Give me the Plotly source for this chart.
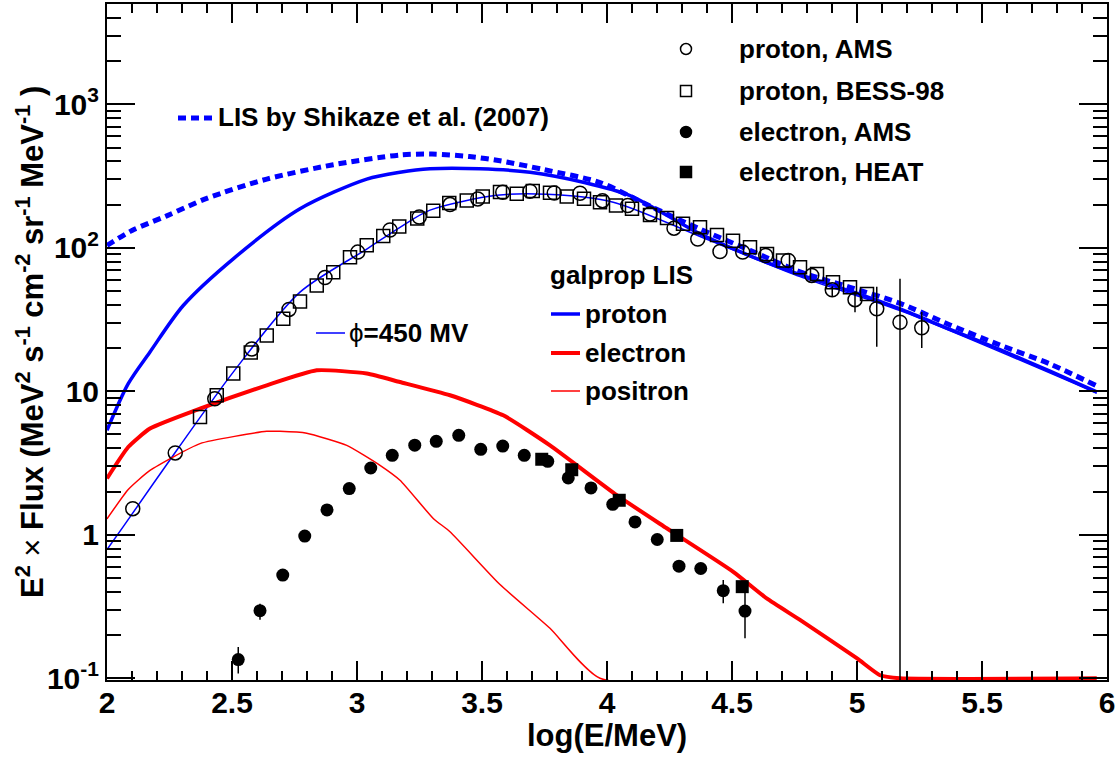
import plotly.graph_objects as go

# ---------------- data ----------------
# proton, AMS (open circles)
p_ams_x = [2.103, 2.273, 2.431, 2.579, 2.728, 2.872, 3.003, 3.132, 3.249, 3.372, 3.483, 3.583, 3.692, 3.789, 3.892,
           3.982, 4.083, 4.172, 4.268, 4.363, 4.452, 4.543, 4.635, 4.725, 4.819, 4.901, 4.992, 5.079, 5.172, 5.259]
p_ams_y = [1.52, 3.72, 8.87, 19.7, 37.2, 62.1, 93.3, 133, 164, 200, 219, 244, 248, 241, 240,
           213, 197, 172, 137, 115, 94.2, 93.3, 88.4, 81.7, 64.2, 51, 43.5, 37.6, 30.3, 27.7]
p_ams_eup = [0] * 25 + [3, 6, 16, 30.5, 8]
p_ams_edn = [0] * 25 + [5, 8, 17.2, 30.29, 7.7]

# proton, BESS-98 (open squares)
p_bess_x = [2.372, 2.439, 2.505, 2.575, 2.639, 2.705, 2.772, 2.839, 2.905, 2.972, 3.039, 3.105, 3.169, 3.241,
            3.305, 3.369, 3.439, 3.503, 3.572, 3.639, 3.703, 3.772, 3.839, 3.908, 3.972, 4.036, 4.100, 4.172,
            4.240, 4.304, 4.372, 4.440, 4.504, 4.572, 4.640, 4.704, 4.772, 4.840, 4.904, 4.972, 5.040]
p_bess_y = [6.62, 9.37, 13.3, 18.6, 24.5, 32, 42.3, 54.6, 67.6, 86, 104, 121, 141, 160,
            181, 205, 214, 228, 245, 238, 249, 242, 228, 220, 208, 197, 187, 169,
            161, 147, 139, 123, 112, 101, 90.7, 81.5, 73.3, 65.8, 57.6, 53.1, 47.7]

# electron, AMS (filled circles)
e_ams_x = [2.525, 2.612, 2.703, 2.791, 2.880, 2.969, 3.055, 3.141, 3.231, 3.317, 3.407, 3.495,
           3.583, 3.669, 3.763, 3.845, 3.936, 4.023, 4.112, 4.201, 4.288, 4.375, 4.465, 4.552]
e_ams_y = [0.135, 0.296, 0.524, 0.98, 1.49, 2.10, 2.92, 3.58, 4.21, 4.48, 4.93, 3.94,
           4.15, 3.58, 3.25, 2.49, 2.12, 1.63, 1.23, 0.927, 0.604, 0.582, 0.408, 0.294]
e_ams_eup = [0.03, 0.035, 0.03] + [0] * 17 + [0.02, 0.02, 0.076, 0.164]
e_ams_edn = [0.027, 0.04, 0.035] + [0] * 17 + [0.03, 0.03, 0.075, 0.104]

# electron, HEAT (filled squares)
e_heat_x = [3.739, 3.859, 4.049, 4.279, 4.541]
e_heat_y = [3.36, 2.84, 1.74, 0.99, 0.435]

# LIS by Shikaze et al. (2007)
lis_x = [2.0, 2.1, 2.239, 2.399, 2.639, 2.905, 3.172, 3.3, 3.45, 3.572, 3.75, 3.972, 4.172, 4.372,
         4.572, 4.772, 4.972, 5.172, 5.372, 5.572, 5.772, 5.959]
lis_y = [104, 132, 167, 221, 301, 379, 443, 450, 432, 404, 350, 285, 195, 135,
         96, 68, 53, 41, 29, 21, 15.5, 10.9]

# galprop LIS proton
gp_x = [2.0, 2.085, 2.172, 2.305, 2.505, 2.772, 3.039, 3.172, 3.292, 3.492, 3.692, 3.905, 4.092, 4.372,
        4.572, 4.772, 4.972, 5.172, 5.372, 5.572, 5.772, 5.959]
gp_y = [5.35, 11.3, 18.8, 39.6, 83.8, 187, 301, 336, 355, 355, 336, 286, 231, 125,
        88, 65, 50, 37.5, 27, 19.5, 13.8, 9.9]

# modulated proton, phi = 450 MV
mod_x = [2.0, 2.065, 2.279, 2.505, 2.772, 3.039, 3.172, 3.292, 3.559, 3.759, 4.025, 4.372, 4.772,
         5.172, 5.959]
mod_y = [0.79, 1.14, 3.88, 13.6, 49.1, 98, 139, 183, 232, 236, 208, 120, 63, 36.5, 9.7]

# galprop LIS electron
ge_x = [2.0, 2.085, 2.172, 2.372, 2.639, 2.839, 3.039, 3.172, 3.372, 3.585, 3.772, 4.039, 4.239, 4.505,
        4.639, 4.772, 4.999, 5.092, 5.172, 5.959]
ge_y = [2.47, 4.09, 5.50, 7.57, 11.0, 14.0, 13.3, 11.6, 9.38, 6.8, 4.2, 1.89, 1.11, 0.552,
        0.36, 0.255, 0.138, 0.105, 0.1, 0.1]

# galprop LIS positron
gpos_x = [2.0, 2.085, 2.172, 2.372, 2.639, 2.692, 2.799, 2.959, 3.092, 3.172, 3.305, 3.372, 3.572,
          3.772, 3.972, 5.959]
gpos_y = [1.29, 2.07, 2.81, 4.32, 5.26, 5.26, 5.1, 4.2, 3.05, 2.4, 1.30, 1.05, 0.45, 0.223, 0.1, 0.1]

x_ticks = [2, 2.5, 3, 3.5, 4, 4.5, 5, 5.5, 6]
x_tick_labels = ["2", "2.5", "3", "3.5", "4", "4.5", "5", "5.5", "6"]
y_ticks = [0.1, 1, 10, 100, 1000]
y_tick_labels = ["10<sup>-1</sup>", "1", "10", "10<sup>2</sup>", "10<sup>3</sup>"]
y_minor = [m * d for d in [0.1, 1, 10, 100] for m in range(2, 10)] + [2000, 3000, 4000, 5000]

BLUE = "#0000ff"
RED = "#ff0000"
FONT = "Liberation Sans"

fig = go.Figure()

fig.add_trace(go.Scatter(x=lis_x, y=lis_y, mode="lines",
                         line=dict(color=BLUE, width=5, dash="8px,5px", shape="spline", smoothing=0.8),
                         showlegend=False))
fig.add_trace(go.Scatter(x=gp_x, y=gp_y, mode="lines",
                         line=dict(color=BLUE, width=3.5, shape="spline", smoothing=0.8), showlegend=False))
fig.add_trace(go.Scatter(x=mod_x, y=mod_y, mode="lines",
                         line=dict(color=BLUE, width=1.5, shape="spline", smoothing=0.8), showlegend=False))
fig.add_trace(go.Scatter(x=ge_x, y=ge_y, mode="lines",
                         line=dict(color=RED, width=4, shape="spline", smoothing=0.5), showlegend=False))
fig.add_trace(go.Scatter(x=gpos_x, y=gpos_y, mode="lines",
                         line=dict(color=RED, width=1.5, shape="spline", smoothing=0.5), showlegend=False))

err_style = dict(type="data", symmetric=False, color="black", thickness=1.5, width=0)

fig.add_trace(go.Scatter(x=p_bess_x, y=p_bess_y, mode="markers",
                         marker=dict(symbol="square-open", size=13, color="black", line=dict(width=1.5)),
                         showlegend=False))
fig.add_trace(go.Scatter(x=p_ams_x, y=p_ams_y, mode="markers",
                         marker=dict(symbol="circle-open", size=14, color="black", line=dict(width=1.5)),
                         error_y=dict(array=p_ams_eup, arrayminus=p_ams_edn, **err_style),
                         showlegend=False))
fig.add_trace(go.Scatter(x=e_ams_x, y=e_ams_y, mode="markers",
                         marker=dict(symbol="circle", size=13, color="black"),
                         error_y=dict(array=e_ams_eup, arrayminus=e_ams_edn, **err_style),
                         showlegend=False))
fig.add_trace(go.Scatter(x=e_heat_x, y=e_heat_y, mode="markers",
                         marker=dict(symbol="square", size=13, color="black"),
                         showlegend=False))

axis_common = dict(ticks="inside", tickwidth=1.5, tickcolor="black", showline=True, linewidth=2,
                   linecolor="black", mirror="ticks", showgrid=False, zeroline=False, automargin=False,
                   tickfont=dict(family=FONT, size=30, color="black", weight="bold"))

fig.update_xaxes(range=[2, 6], tickmode="array", tickvals=x_ticks, ticktext=x_tick_labels, ticklen=19,
                 ticklabelstandoff=-5,
                 minor=dict(ticks="inside", ticklen=9, tickwidth=1.5, tickcolor="black", dtick=0.1, tick0=2,
                            showgrid=False),
                 **axis_common)
fig.update_yaxes(type="log", range=[-1.012, 3.699], tickmode="array", tickvals=y_ticks, ticktext=y_tick_labels,
                 ticklen=28,
                 minor=dict(ticks="inside", ticklen=14, tickwidth=1.5, tickcolor="black", tickmode="array",
                            tickvals=y_minor, showgrid=False),
                 **axis_common)

# ---------- legend-like annotations ----------
def px2x(px):
    return (px - 107) / 1000.0


def px2y(py):
    return (680 - py) / 676.0


ann = []
shapes = []
tf = dict(family=FONT, size=26, color="black")

rows = [("proton, AMS", "circle", False), ("proton, BESS-98", "rect", False),
        ("electron, AMS", "circle", True), ("electron, HEAT", "rect", True)]
row_y = [49, 91, 132, 172]
for (label, kind, filled), ry in zip(rows, row_y):
    shapes.append(dict(type=kind, xref="paper", yref="paper", xsizemode="pixel", ysizemode="pixel",
                       xanchor=px2x(686), yanchor=px2y(ry), x0=-5.5, x1=5.5, y0=-5.5, y1=5.5,
                       line=dict(color="black", width=1.5),
                       fillcolor="black" if filled else "rgba(0,0,0,0)"))
    ann.append(dict(xref="paper", yref="paper", x=px2x(737), y=px2y(ry), xanchor="left", yanchor="middle",
                    text="<b>%s</b>" % label, showarrow=False, font=tf))

shapes.append(dict(type="line", xref="paper", yref="paper", x0=px2x(178), x1=px2x(213), y0=px2y(118),
                   y1=px2y(118), line=dict(color=BLUE, width=5, dash="8px,5px")))
ann.append(dict(xref="paper", yref="paper", x=px2x(216), y=px2y(117), xanchor="left", yanchor="middle",
                text="<b>LIS by Shikaze et al. (2007)</b>", showarrow=False, font=tf))

ann.append(dict(xref="paper", yref="paper", x=px2x(548), y=px2y(275), xanchor="left", yanchor="middle",
                text="<b>galprop LIS</b>", showarrow=False, font=tf))
for label, col, w, ry in [("proton", BLUE, 3.5, 314), ("electron", RED, 4, 353), ("positron", RED, 1.5, 391)]:
    shapes.append(dict(type="line", xref="paper", yref="paper", x0=px2x(551), x1=px2x(580), y0=px2y(ry),
                       y1=px2y(ry), line=dict(color=col, width=w)))
    ann.append(dict(xref="paper", yref="paper", x=px2x(583), y=px2y(ry), xanchor="left", yanchor="middle",
                    text="<b>%s</b>" % label, showarrow=False, font=tf))

shapes.append(dict(type="line", xref="paper", yref="paper", x0=px2x(316), x1=px2x(345), y0=px2y(333),
                   y1=px2y(333), line=dict(color=BLUE, width=1.5)))
ann.append(dict(xref="paper", yref="paper", x=px2x(347), y=px2y(333), xanchor="left", yanchor="middle",
                text="ϕ<b>=450 MV</b>", showarrow=False, font=tf))

ann.append(dict(xref="paper", yref="paper", x=0.5, y=px2y(735), xanchor="center", yanchor="middle",
                text="<b>log(E/MeV)</b>", showarrow=False, font=dict(family=FONT, size=31, color="black")))
ann.append(dict(xref="paper", yref="paper", x=px2x(30), y=px2y(342), xanchor="center", yanchor="middle",
                textangle=-90,
                text="<b>E<sup>2</sup></b> × <b>Flux (MeV<sup>2</sup> s<sup>-1</sup> cm<sup>-2</sup> "
                     "sr<sup>-1</sup> MeV<sup>-1</sup> )</b>",
                showarrow=False, font=dict(family=FONT, size=31, color="black")))

fig.update_layout(width=1120, height=757, margin=dict(l=107, r=13, t=4, b=77),
                  plot_bgcolor="white", paper_bgcolor="white", showlegend=False,
                  annotations=ann, shapes=shapes)

fig.write_html("out.html", config={"displayModeBar": False},
               post_script="document.body.style.margin='0px';document.body.style.overflow='hidden';")
